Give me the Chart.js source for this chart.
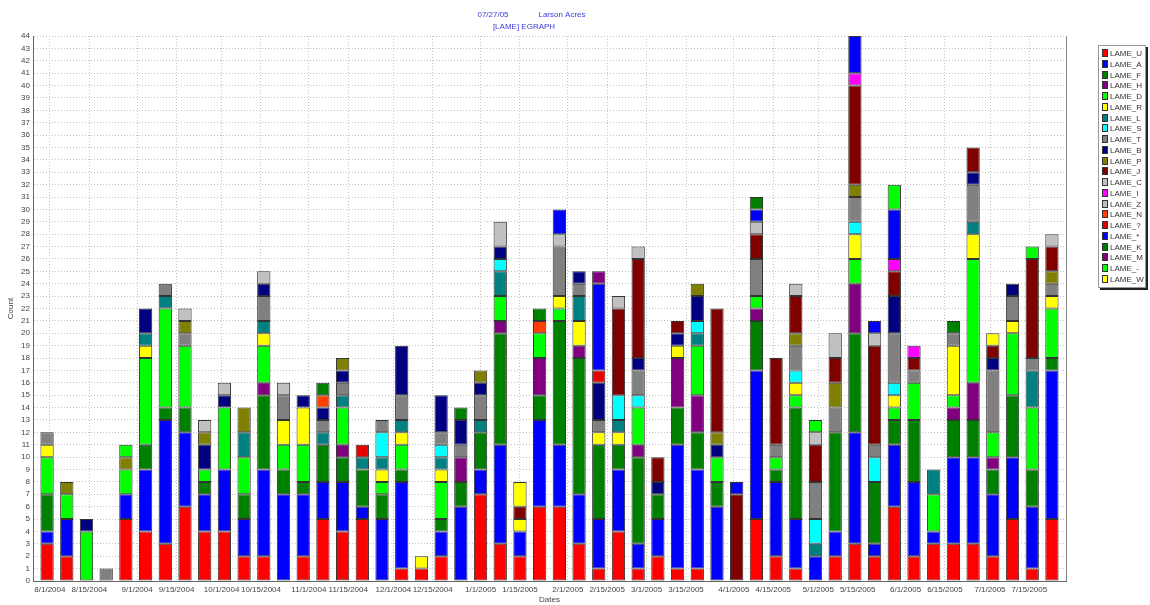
<!DOCTYPE html>
<html>
<head>
<meta charset="utf-8">
<script src="https://cdn.jsdelivr.net/npm/chart.js@4.4.0/dist/chart.umd.min.js"></script>
<style>
body { margin: 0; background: #fff; }
#wrap { position: relative; width: 1150px; height: 605px; }
#legend { position: absolute; left: 1098px; top: 45px; width: 48px; height: 243px; border: 1px solid #999;
  box-shadow: 2px 2px 0 #222; background: #fff; padding-top: 3px; box-sizing: border-box; }
#legend div { height: 10.75px; line-height: 10.75px; font: 8px 'Liberation Sans Narrow', 'Liberation Sans', Arial, sans-serif; color: #333; white-space: nowrap; }
#legend span { display: inline-block; width: 4px; height: 6px; border: 1px solid #333; margin: 0 2px 0 3px; vertical-align: -1px; }
</style>
</head>
<body>
<div id="wrap">
<canvas id="egraph" width="1150" height="605"></canvas>
<div id="legend"></div>
</div>
<script>
// weekly dates (saturdays)
var barDates = ['7/31/2004','8/7/2004','8/14/2004','8/21/2004','8/28/2004','9/4/2004','9/11/2004','9/18/2004','9/25/2004','10/2/2004',
  '10/9/2004','10/16/2004','10/23/2004','10/30/2004','11/6/2004','11/13/2004','11/20/2004','11/27/2004','12/4/2004','12/11/2004',
  '12/18/2004','12/25/2004','1/1/2005','1/8/2005','1/15/2005','1/22/2005','1/29/2005','2/5/2005','2/12/2005','2/19/2005',
  '2/26/2005','3/5/2005','3/12/2005','3/19/2005','3/26/2005','4/2/2005','4/9/2005','4/16/2005','4/23/2005','4/30/2005',
  '5/7/2005','5/14/2005','5/21/2005','5/28/2005','6/4/2005','6/11/2005','6/18/2005','6/25/2005','7/2/2005','7/9/2005',
  '7/16/2005','7/23/2005']
var tickDates = ['8/1/2004','8/15/2004','9/1/2004','9/15/2004','10/1/2004','10/15/2004','11/1/2004','11/15/2004','12/1/2004','12/15/2004',
  '1/1/2005','1/15/2005','2/1/2005','2/15/2005','3/1/2005','3/15/2005','4/1/2005','4/15/2005','5/1/2005','5/15/2005',
  '6/1/2005','6/15/2005','7/1/2005','7/15/2005']

var lameU = [3,2,0,0,5,4,3,6,4,4, 2,2,0,2,5,4,5,0,1,1, 2,0,7,3,2,6,6,3,1,4, 1,2,1,1,0,0,5,2,1,0, 2,3,2,6,2,3,3,3,2,5, 1,5]
var lameA = [1,3,0,0,2,5,10,6,3,5, 3,7,7,5,3,4,1,5,7,0, 2,6,2,8,2,7,5,4,4,5, 2,3,10,8,6,0,12,6,4,2, 2,9,1,5,6,1,7,7,5,5, 5,12]
var lameF = [3,0,0,0,0,2,1,2,1,0, 2,6,2,1,3,2,3,2,1,0, 1,2,3,9,0,2,10,11,6,2, 7,2,3,3,2,0,4,1,9,0, 8,8,5,2,5,0,3,3,2,5, 3,1]
var lameH = [0,0,0,0,0,0,0,0,0,0, 0,1,0,0,0,1,0,0,0,0, 0,2,0,1,0,3,0,1,0,0, 1,0,4,3,0,0,1,0,0,0, 0,4,0,0,0,0,1,3,1,0, 0,0]
var lameD = [3,2,4,0,2,7,8,5,1,5, 3,3,2,3,0,3,0,1,2,0, 3,0,0,2,0,2,1,0,0,0, 3,0,0,4,2,0,1,1,1,0, 0,2,0,1,3,3,1,10,2,5, 5,4]
var lameR = [1,0,0,0,0,1,0,0,0,0, 0,1,2,3,0,0,0,1,1,1, 1,0,0,0,1,0,1,2,1,1, 0,0,1,0,0,0,0,0,1,0, 0,2,0,1,0,0,4,2,0,1, 0,1]
var lameL = [0,0,0,0,0,1,1,0,0,0, 2,1,0,0,1,1,1,1,1,0, 1,0,1,2,0,0,0,2,0,1, 0,0,0,1,0,0,0,0,0,1, 0,0,0,0,0,2,0,1,0,0, 3,0]
var lameS = [0,0,0,0,0,0,0,0,0,0, 0,0,0,0,0,0,0,2,0,0, 1,0,0,1,0,0,0,0,0,2, 1,0,0,1,0,0,0,0,1,2, 0,1,2,1,0,0,0,0,0,0, 0,0]
var lameT = [1,0,0,1,0,0,1,1,0,0, 0,2,2,0,1,1,0,1,2,0, 1,1,2,0,0,0,4,1,1,0, 2,0,0,0,0,0,3,1,2,3, 2,2,1,4,1,0,1,3,5,2, 1,1]
var lameB = [0,0,1,0,0,2,0,0,2,1, 0,1,0,1,1,1,0,0,4,0, 3,2,1,1,0,0,0,1,3,0, 1,1,1,2,1,0,0,0,0,0, 0,0,0,3,0,0,0,1,1,1, 0,0]
var lameP = [0,1,0,0,1,0,0,1,1,0, 2,0,0,0,0,1,0,0,0,0, 0,0,1,0,0,0,0,0,0,0, 0,0,0,1,1,0,0,0,1,0, 2,1,0,0,0,0,0,0,0,0, 0,1]
var lameJ = [0,0,0,0,0,0,0,0,0,0, 0,0,0,0,0,0,0,0,0,0, 0,0,0,0,1,0,0,0,0,7, 8,2,1,0,10,7,2,7,3,3, 2,8,8,2,1,0,0,2,1,0, 8,2]
var lameC = [0,0,0,0,0,0,0,1,1,1, 0,1,1,0,0,0,0,0,0,0, 0,0,0,2,0,0,1,0,0,1, 1,0,0,0,0,0,1,0,1,1, 2,0,1,0,0,0,0,0,0,0, 0,1]
var lameI = [0,0,0,0,0,0,0,0,0,0, 0,0,0,0,0,0,0,0,0,0, 0,0,0,0,0,0,0,0,0,0, 0,0,0,0,0,0,0,0,0,0, 0,1,0,1,1,0,0,0,0,0, 0,0]
var lameZ = [0,0,0,0,0,0,0,0,0,0, 0,0,0,0,0,0,0,0,0,0, 0,0,0,0,0,0,0,0,0,0, 0,0,0,0,0,0,0,0,0,0, 0,0,0,0,0,0,0,0,0,0, 0,0]
var lameN = [0,0,0,0,0,0,0,0,0,0, 0,0,0,0,1,0,0,0,0,0, 0,0,0,0,0,1,0,0,0,0, 0,0,0,0,0,0,0,0,0,0, 0,0,0,0,0,0,0,0,0,0, 0,0]
var lameQ = [0,0,0,0,0,0,0,0,0,0, 0,0,0,0,0,0,1,0,0,0, 0,0,0,0,0,0,0,0,1,0, 0,0,0,0,0,0,0,0,0,0, 0,0,0,0,0,0,0,0,0,0, 0,0]
var lameStar = [0,0,0,0,0,0,0,0,0,0, 0,0,0,0,0,0,0,0,0,0, 0,0,0,0,0,0,2,0,7,0, 0,0,0,0,0,1,1,0,0,0, 0,3,1,4,0,0,0,0,0,0, 0,0]
var lameK = [0,0,0,0,0,0,0,0,0,0, 0,0,0,0,1,0,0,0,0,0, 0,1,0,0,0,1,0,0,0,0, 0,0,0,0,0,0,1,0,0,0, 0,0,0,0,0,0,1,0,0,0, 0,0]
var lameM = [0,0,0,0,0,0,0,0,0,0, 0,0,0,0,0,0,0,0,0,0, 0,0,0,0,0,0,0,0,1,0, 0,0,0,0,0,0,0,0,0,0, 0,0,0,0,0,0,0,0,0,0, 0,0]
var lameDash = [0,0,0,0,1,0,0,0,0,0, 0,0,0,0,0,0,0,0,0,0, 0,0,0,0,0,0,0,0,0,0, 0,0,0,0,0,0,0,0,0,1, 0,0,0,2,0,0,0,0,0,0, 1,0]
var lameW = [0,0,0,0,0,0,0,0,0,0, 0,0,0,0,0,0,0,0,0,0, 0,0,0,0,2,0,0,0,0,0, 0,0,0,0,0,0,0,0,0,0, 0,0,0,0,0,0,0,0,1,0, 0,0]

var seriesNames = ['LAME_U','LAME_A','LAME_F','LAME_H','LAME_D','LAME_R','LAME_L','LAME_S','LAME_T','LAME_B','LAME_P',
  'LAME_J','LAME_C','LAME_I','LAME_Z','LAME_N','LAME_?','LAME_*','LAME_K','LAME_M','LAME_-','LAME_W']
var seriesValues = [lameU,lameA,lameF,lameH,lameD,lameR,lameL,lameS,lameT,lameB,lameP,
  lameJ,lameC,lameI,lameZ,lameN,lameQ,lameStar,lameK,lameM,lameDash,lameW]
var seriesColors = ['#ff0000','#0000ff','#008000','#800080','#00ff00','#ffff00','#008080','#00ffff','#808080','#000080','#808000',
  '#800000','#c0c0c0','#ff00ff','#c0c0c0','#ff4000','#e80000','#0000ff','#008000','#800080','#00ff00','#ffff00']

var fontFam = "'Liberation Sans Narrow', 'Liberation Sans', Arial, sans-serif"

function dayNum(s) {
  var p = s.split('/').map(Number)
  return Date.UTC(p[2], p[0]-1, p[1]) / 86400000
}

let barX = barDates.map(dayNum)
let datasets = []
for (let i = 0; i < seriesNames.length; i++) {
  datasets.push({
    label: seriesNames[i],
    data: seriesValues[i].map((v, j) => ({x: barX[j], y: v || null})),
    backgroundColor: seriesColors[i],
    borderColor: '#333',
    borderWidth: 1,
    borderSkipped: false,
    categoryPercentage: 0.75,
    barPercentage: 0.9
  })
}

// legend
let lg = document.getElementById('legend')
for (let i = 0; i < seriesNames.length; i++) {
  let row = document.createElement('div')
  row.innerHTML = '<span style="background:' + seriesColors[i] + '"></span>' + seriesNames[i]
  lg.appendChild(row)
}

var extras = {
  id: 'extras',
  afterDraw(chart) {
    let ctx = chart.ctx, a = chart.chartArea
    ctx.save()
    ctx.strokeStyle = '#888'
    ctx.lineWidth = 1
    ctx.beginPath()
    ctx.moveTo(a.right + 0.5, a.top)
    ctx.lineTo(a.right + 0.5, a.bottom)
    ctx.stroke()
    ctx.fillStyle = '#3c3cdc'
    ctx.font = '8px ' + fontFam
    ctx.textAlign = 'center'
    ctx.textBaseline = 'middle'
    ctx.fillText('07/27/05', 493, 15)
    ctx.fillText('Larson Acres', 562, 15)
    ctx.fillText('[LAME] EGRAPH', 524, 27)
    ctx.restore()
  }
}

Chart.defaults.font.family = fontFam
Chart.defaults.font.size = 8
Chart.defaults.color = '#444'

var ctx = document.getElementById('egraph').getContext('2d');
var chart = new Chart(ctx, {
  type: 'bar',
  data: { datasets: datasets },
  options: {
    responsive: false,
    animation: false,
    devicePixelRatio: 1,
    layout: { padding: { left: 0, right: 84, top: 36, bottom: 0 } },
    plugins: { legend: { display: false }, tooltip: { enabled: false } },
    scales: {
      x: {
        type: 'linear',
        stacked: true,
        offset: false,
        min: barX[0] - 5,
        max: barX[barX.length - 1] + 5,
        afterBuildTicks: s => { s.ticks = tickDates.map(d => ({value: dayNum(d)})) },
        afterFit: s => { s.height = 24 },
        ticks: { autoSkip: false, maxRotation: 0, padding: 4, callback: (v, i) => tickDates[i] },
        grid: { offset: false, drawTicks: false, color: '#c4c4c4' },
        border: { color: '#666', dash: [1, 2] },
        title: { display: true, text: 'Dates', padding: { top: 0, bottom: 0 } }
      },
      y: {
        stacked: true,
        min: 0,
        max: 44,
        afterFit: s => { s.width = 33 },
        ticks: { stepSize: 1, padding: 3, autoSkip: false },
        grid: { drawTicks: false, color: '#c4c4c4' },
        border: { color: '#666', dash: [1, 2] },
        title: { display: true, text: 'Count', padding: { top: 6, bottom: 0 } }
      }
    }
  },
  plugins: [extras]
});
</script>
</body>
</html>
